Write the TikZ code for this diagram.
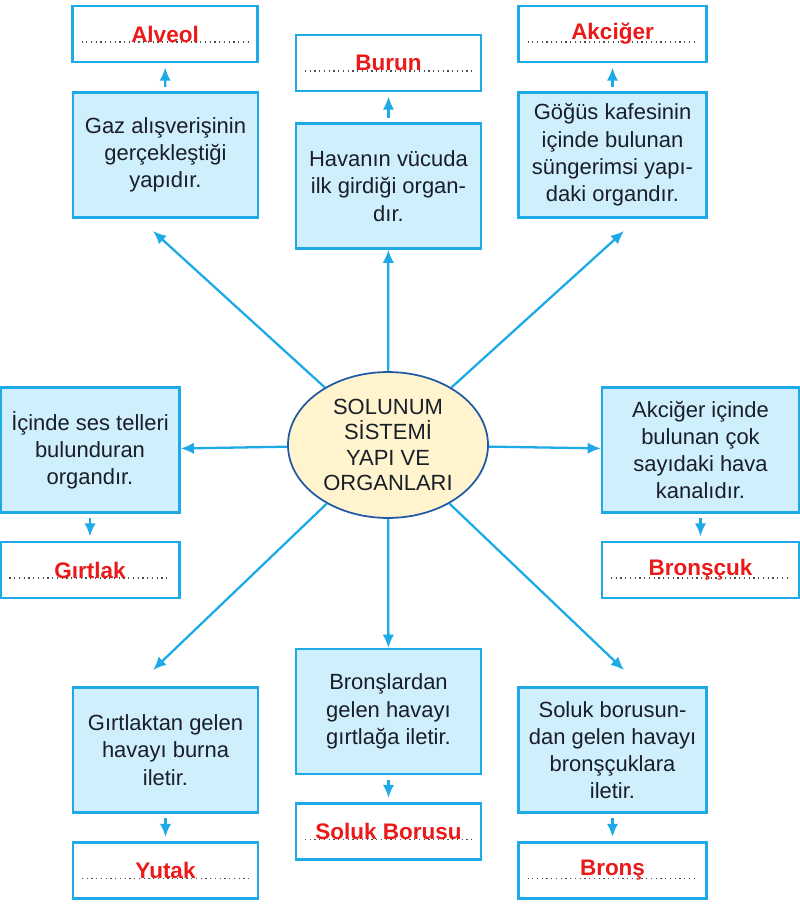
\documentclass[tikz,border=0pt]{standalone}
\usepackage{fontspec}
\setmainfont{Liberation Sans}
\usetikzlibrary{positioning,arrows.meta,calc,shapes}
\definecolor{boxline}{RGB}{30,170,230}
\definecolor{boxfill}{RGB}{208,239,252}
\definecolor{ansred}{RGB}{235,25,25}
\definecolor{ellfill}{RGB}{255,244,205}
\definecolor{ellline}{RGB}{35,90,165}
\definecolor{inktext}{RGB}{25,30,40}
\tikzset{
    desc/.style = {
        draw=boxline,
        fill=boxfill,
        shape=rectangle,
        minimum height=2.5cm,
        minimum width=3.7cm,
        line width=1.3pt,
        align=center,
        text=inktext,
        font=\fontsize{12.5}{15.5}\selectfont
    },
    answer/.style = {
        draw=boxline,
        fill=white,
        shape=rectangle,
        minimum height=1.12cm,
        minimum width=3.7cm,
        line width=1.3pt,
        text=ansred,
        font=\fontsize{12.8}{15}\selectfont\bfseries,
        path picture={
            \draw[dotted, line width=0.7pt, black!70]
                ([xshift=0.18cm, yshift=-0.16cm]path picture bounding box.west) --
                ([xshift=-0.18cm, yshift=-0.16cm]path picture bounding box.east);
        }
    },
    topic/.style = {
        draw=ellline,
        fill=ellfill,
        shape=ellipse,
        minimum width=4cm,
        minimum height=2.42cm,
        line width=1pt,
        align=center,
        text=inktext,
        font=\fontsize{12.5}{14.4}\selectfont
    },
    link/.style = {
        draw=boxline,
        line width=1.3pt,
        ->
    },
    >={Latex[length=7.5pt,width=6.5pt]},
}

\begin{document}
\begin{tikzpicture}
            \useasboundingbox (0,0) rectangle (16,-18.1);

            \node[topic] (topic) at (7.76,-8.9) {SOLUNUM\\SİSTEMİ\\YAPI VE\\ORGANLARI};

            % upper row
            \node[answer] (ansAlveol) at (3.30,-0.68) {Alveol};
            \node[desc] (descAlveol) at (3.31,-3.10) {Gaz alışverişinin\\gerçekleştiği\\yapıdır.};
            \node[answer] (ansBurun) at (7.77,-1.26) {Burun};
            \node[desc] (descBurun) at (7.77,-3.72) {Havanın vücuda\\ilk girdiği organ-\\dır.};
            \node[answer, minimum width=3.76cm] (ansAkciger) at (12.25,-0.68) {Akciğer};
            \node[desc, minimum width=3.76cm] (descAkciger) at (12.25,-3.10) {Göğüs kafesinin\\içinde bulunan\\süngerimsi yapı-\\daki organdır.};

            % middle row
            \node[desc, minimum width=3.58cm] (descGirtlak) at (1.80,-9.0) {İçinde ses telleri\\bulunduran\\organdır.};
            \node[answer, minimum width=3.58cm] (ansGirtlak) at (1.80,-11.40) {Gırtlak};
            \node[desc, minimum width=3.94cm] (descBronscuk) at (14.01,-9.0) {Akciğer içinde\\bulunan çok\\sayıdaki hava\\kanalıdır.};
            \node[answer, minimum width=3.94cm] (ansBronscuk) at (14.01,-11.40) {Bronşçuk};

            % lower row
            \node[desc] (descYutak) at (3.31,-15.00) {Gırtlaktan gelen\\havayı burna\\iletir.};
            \node[answer] (ansYutak) at (3.31,-17.41) {Yutak};
            \node[desc] (descSoluk) at (7.77,-14.23) {Bronşlardan\\gelen havayı\\gırtlağa iletir.};
            \node[answer] (ansSoluk) at (7.77,-16.63) {Soluk Borusu};
            \node[desc, minimum width=3.76cm] (descBrons) at (12.25,-15.00) {Soluk borusun-\\dan gelen havayı\\bronşçuklara\\iletir.};
            \node[answer, minimum width=3.76cm] (ansBrons) at (12.25,-17.41) {Bronş};

            \coordinate (tipUL) at (3.06,-4.62);
            \coordinate (tipUR) at (12.48,-4.62);
            \coordinate (tipLL) at (3.06,-13.40);
            \coordinate (tipLR) at (12.48,-13.40);

            \path[link] (topic) -- (tipUL);
            \path[link] (topic) -- (descBurun);
            \path[link] (topic) -- (tipUR);
            \path[link] (topic) -- (descGirtlak);
            \path[link] (topic) -- (descBronscuk);
            \path[link] (topic) -- (tipLL);
            \path[link] (topic) -- (descSoluk);
            \path[link] (topic) -- (tipLR);

            \path[link, shorten <=2.5pt, shorten >=2.5pt] (descAlveol) -- (ansAlveol);
            \path[link, shorten <=2.5pt, shorten >=2.5pt] (descBurun) -- (ansBurun);
            \path[link, shorten <=2.5pt, shorten >=2.5pt] (descAkciger) -- (ansAkciger);
            \path[link, shorten <=2.5pt, shorten >=2.5pt] (descGirtlak) -- (ansGirtlak);
            \path[link, shorten <=2.5pt, shorten >=2.5pt] (descBronscuk) -- (ansBronscuk);
            \path[link, shorten <=2.5pt, shorten >=2.5pt] (descYutak) -- (ansYutak);
            \path[link, shorten <=2.5pt, shorten >=2.5pt] (descSoluk) -- (ansSoluk);
            \path[link, shorten <=2.5pt, shorten >=2.5pt] (descBrons) -- (ansBrons);

        \end{tikzpicture}
\end{document}
